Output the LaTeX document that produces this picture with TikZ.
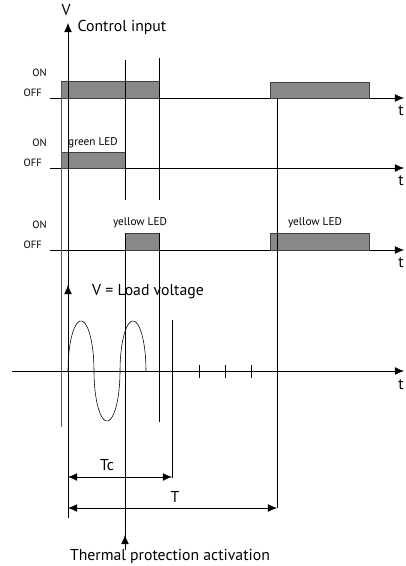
\documentclass[tikz,border=0pt]{standalone}
\usepackage{fontspec}
\setmainfont{PT Sans}
\usetikzlibrary{arrows.meta}
\definecolor{bargray}{RGB}{136,136,136}
\begin{document}
\begin{tikzpicture}[x=0.025cm,y=-0.025cm,>={Latex[length=6.5pt,width=5.5pt]},
  bar/.style={draw=black!75,fill=bargray},
  lvl/.style={font=\fontsize{7.5}{9}\selectfont,anchor=east,inner sep=0pt},
  tag/.style={font=\fontsize{8}{10}\selectfont,inner sep=0pt},
  big/.style={font=\fontsize{11.2}{13}\selectfont,inner sep=0pt}]
  \useasboundingbox (0,0) rectangle (406,566);
  % time axes of the three logic rows
  \foreach \y/\n in {98/a,168/b,250/c} {
    \draw[->] (50,\y) -- (404,\y);
    \node[big] (t\n) at (401,\y+13) {t};
    \node[lvl] (on\n) at (47,\y-25) {ON};
    \node[lvl] (off\n) at (42,\y-5) {OFF};
  }
  % pulses
  \draw[bar] (61,81) rectangle (159,98);
  \draw[bar] (270,82) rectangle (369,98);
  \draw[bar] (61,152) rectangle (125,168);
  \draw[bar] (125,233) rectangle (159,250);
  \draw[bar] (270,233) rectangle (369,250);
  \node[tag] (green) at (93,143) {green LED};
  \node[tag] (yel1) at (140,223) {yellow LED};
  \node[tag] (yel2) at (315,223) {yellow LED};
  % vertical markers
  \draw[black!65] (61,82) -- (61,427);
  \draw[->] (68,518) -- (68,23);
  \draw[->] (68,300) -- (68,285);
  \node[big] (V) at (66,10) {V};
  \node[big] (ctrl) at (122,27) {Control input};
  \draw (125,60) -- (125,200) (125,233) -- (125,550);
  \draw (159,58) -- (159,200) (159,233) -- (159,422);
  \draw (172,320) -- (172,478);
  \draw (277,98) -- (277,508);
  % load voltage
  \draw[->] (12,371) -- (404,371);
  \node[big] (tl) at (401,385) {t};
  \node[big] (load) at (148,292) {V = Load voltage};
  \draw (68,371)
    \foreach \k/\s in {0/1,1/-1,2/1} {
      plot[domain=0:180,samples=40] ({81+26*\k-13*cos(\x)},{371-\s*50*sin(\x)})
    };
  \foreach \x in {199,225,251}
    \draw (\x,365) -- (\x,378);
  % durations
  \coordinate (tc0) at (68,477);
  \coordinate (tc1) at (172,477);
  \coordinate (tt0) at (68,508);
  \coordinate (tt1) at (277,508);
  \draw[<->] (tc0) -- (tc1);
  \draw[<->] (tt0) -- (tt1);
  \node[big] (Tc) at (107,465) {Tc};
  \node[big] (T) at (175,497) {T};
  \coordinate (act) at (125,550);
  \coordinate (act1) at (125,535);
  \draw[->] (act) -- (act1);
  \node[big] (therm) at (170,556) {Thermal protection activation};
\end{tikzpicture}
\end{document}
